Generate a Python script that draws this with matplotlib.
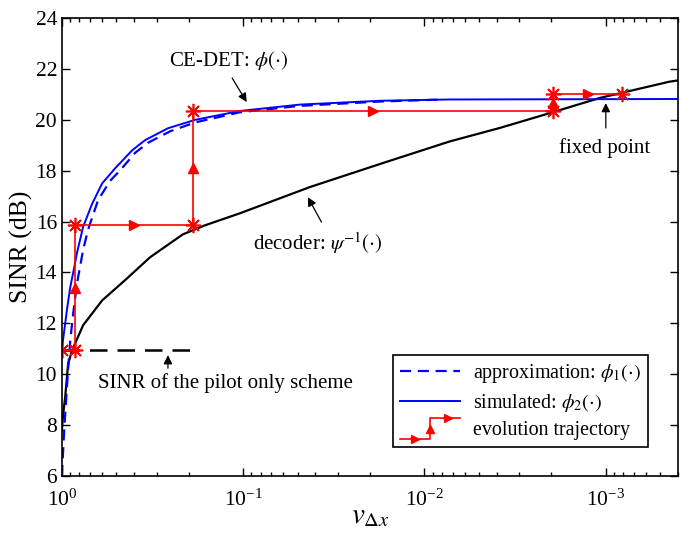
import numpy as np
import matplotlib
matplotlib.use("Agg")
import matplotlib.pyplot as plt
from matplotlib.lines import Line2D
from matplotlib.legend_handler import HandlerBase

plt.rcParams['font.family'] = ['Liberation Serif', 'DejaVu Serif']
plt.rcParams['mathtext.fontset'] = 'stix'
plt.rcParams['axes.unicode_minus'] = False

# decoder curve psi^-1
v_dec = [1.0, 0.985, 0.959, 0.924, 0.878, 0.763, 0.600, 0.448, 0.326, 0.215, 0.163,
         0.104, 0.0428, 0.0170, 0.00727, 0.00385, 0.00196, 0.00108, 0.000446, 0.0004]
sinr_dec = [7.8, 8.4, 9.1, 10.4, 10.95, 11.93, 12.9, 13.7, 14.6, 15.5, 15.85,
            16.33, 17.36, 18.3, 19.15, 19.68, 20.3, 20.86, 21.5, 21.55]

# simulated phi_2
v_sim = [1.0, 0.971, 0.935, 0.900, 0.855, 0.824, 0.763, 0.681, 0.600, 0.508, 0.410,
         0.348, 0.260, 0.184, 0.104, 0.0486, 0.0176, 0.0073, 0.0004]
sinr_sim = [11.0, 11.7, 12.6, 13.4, 14.2, 14.8, 15.8, 16.7, 17.5, 18.1, 18.8,
            19.2, 19.67, 20.0, 20.35, 20.6, 20.75, 20.8, 20.82]

# approximation phi_1
v_app = [1.0, 0.971, 0.935, 0.900, 0.866, 0.824, 0.763, 0.716, 0.631, 0.542, 0.466,
         0.395, 0.335, 0.253, 0.184, 0.104, 0.0486, 0.0176, 0.008]
sinr_app = [6.0, 7.8, 9.65, 11.3, 12.4, 13.6, 14.9, 15.7, 16.85, 17.6, 18.1,
            18.7, 19.1, 19.55, 19.9, 20.3, 20.55, 20.72, 20.8]

# evolution trajectory vertices
v_traj = [1.0, 0.845, 0.845, 0.189, 0.189, 0.00196, 0.00196, 0.00081]
sinr_traj = [10.95, 10.95, 15.86, 15.86, 20.35, 20.35, 21.0, 21.0]

# pilot only SINR
v_pilot = [1.0, 0.19]
sinr_pilot = [10.95, 10.95]

RED = '#ff0000'
BLUE = '#0000ff'


class StairHandler(HandlerBase):
    def create_artists(self, legend, orig_handle, xdescent, ydescent,
                       width, height, fontsize, trans):
        x0, y0 = -xdescent, -ydescent
        xm = x0 + 0.5 * width
        yl, yh = y0 - 0.3 * height, y0 + 1.25 * height
        line = Line2D([x0, xm, xm, x0 + width], [yl, yl, yh, yh],
                      color=RED, lw=1.2, transform=trans)
        a1 = Line2D([xm], [(yl + yh) / 2], marker='^', ms=5.5, color=RED,
                    lw=0, transform=trans)
        a2 = Line2D([x0 + 0.8 * width], [yh], marker='>', ms=5.5, color=RED,
                    lw=0, transform=trans)
        a3 = Line2D([x0 + 0.25 * width], [yl], marker='>', ms=5.5, color=RED,
                    lw=0, transform=trans)
        return [line, a1, a2, a3]


fig = plt.figure(figsize=(6.8, 5.4), dpi=100)
ax = fig.add_axes([0.091, 0.1185, 0.906, 0.848])

ax.plot(v_dec, sinr_dec, color='black', lw=1.6)
h_app, = ax.plot(v_app, sinr_app, color=BLUE, lw=1.6, ls=(0, (5, 3)))
h_sim, = ax.plot(v_sim, sinr_sim, color=BLUE, lw=1.4)
ax.plot(v_pilot, sinr_pilot, color='black', lw=1.8, ls=(0, (7, 4)))

ax.plot(v_traj, sinr_traj, color=RED, lw=1.2, marker=(8, 2, 0), ms=11, mew=1.2)
# arrow heads at segment midpoints
for i in range(1, len(v_traj) - 1):
    xa, xb = v_traj[i], v_traj[i + 1]
    ya, yb = sinr_traj[i], sinr_traj[i + 1]
    xm = np.sqrt(xa * xb)
    ym = (ya + yb) / 2
    mk = '^' if xa == xb else '>'
    ax.plot([xm], [ym], marker=mk, ms=7, color=RED, lw=0)

aprops = dict(arrowstyle='-|>', color='black', lw=0.9, mutation_scale=13,
              shrinkA=0, shrinkB=0)
fs_ann = 15
ax.text(0.121, 22.35, r'CE-DET: $\phi(\cdot)$', ha='center', va='center', fontsize=fs_ann)
ax.annotate('', xy=(0.0956, 20.70), xytext=(0.115, 21.64), arrowprops=aprops)
ax.text(0.0387, 15.16, r'decoder: $\psi^{-1}(\cdot)$', ha='center', va='center', fontsize=fs_ann)
ax.annotate('', xy=(0.0440, 16.96), xytext=(0.0370, 15.98), arrowprops=aprops)
ax.text(0.00101, 18.89, 'fixed point', ha='center', va='center', fontsize=fs_ann)
ax.annotate('', xy=(0.00100, 20.66), xytext=(0.00100, 19.68), arrowprops=aprops)
ax.text(0.126, 9.65, 'SINR of the pilot only scheme', ha='center', va='center', fontsize=fs_ann)
ax.annotate('', xy=(0.26, 10.75), xytext=(0.26, 10.24), arrowprops=aprops)

ax.set_xscale('log')
ax.set_xlim(1, 4e-4)
ax.set_ylim(6, 24)
ax.set_yticks(np.arange(6, 25, 2))
ax.set_xticks([1, 0.1, 0.01, 0.001])
ax.tick_params(which='both', direction='in', top=True, right=True, labelsize=15.5)
ax.tick_params(which='major', length=6, width=1)
ax.tick_params(which='minor', length=3, width=1)
ax.tick_params(axis='x', pad=10)
for s in ax.spines.values():
    s.set_linewidth(1.2)

ax.set_xlabel(r'$v_{\Delta x}$', fontsize=21, labelpad=-6)
ax.set_ylabel('SINR (dB)', fontsize=18.5, labelpad=2)

traj_handle = Line2D([], [], color=RED)
leg = ax.legend([h_app, h_sim, traj_handle],
                [r'approximation: $\phi_1(\cdot)$', r'simulated: $\phi_2(\cdot)$',
                 'evolution trajectory'],
                handler_map={traj_handle: StairHandler()},
                loc='lower right', bbox_to_anchor=(0.967, 0.041),
                fontsize=14.4, fancybox=False, framealpha=1, edgecolor='black',
                handlelength=3.0, handletextpad=0.65, labelspacing=0.35,
                borderpad=0.35)
leg.get_frame().set_linewidth(1.2)

fig.savefig('out.png', dpi=100)
